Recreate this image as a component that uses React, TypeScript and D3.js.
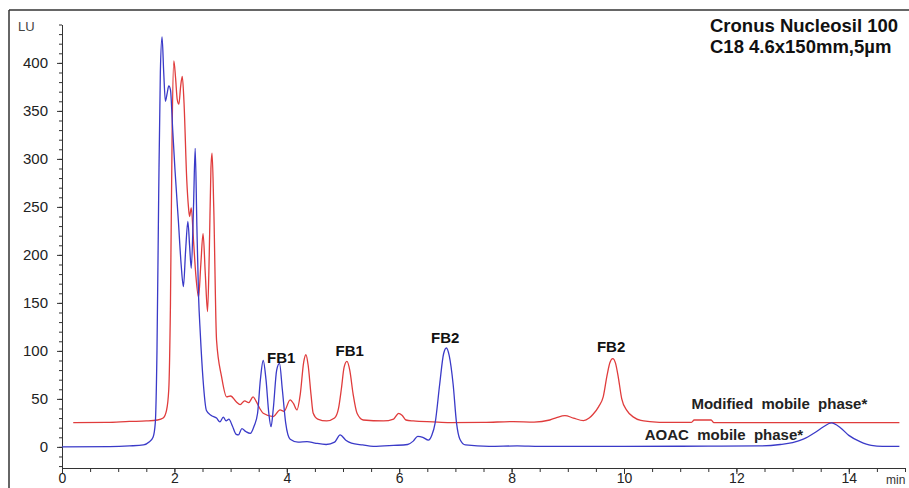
import { useEffect, useRef } from "react";
import * as d3 from "d3";

// retention time (min) / signal (LU)
const aoacPoints: [number, number][] = [
  [0, 0], [0.85, 0.3], [1.2, 1], [1.45, 2], [1.55, 5], [1.62, 10], [1.66, 25],
  [1.69, 100], [1.72, 260], [1.75, 390], [1.78, 427], [1.81, 390], [1.84, 360],
  [1.87, 368], [1.9, 376], [1.93, 372], [1.97, 330], [2.01, 289], [2.07, 236],
  [2.12, 190], [2.16, 167], [2.2, 205], [2.24, 235], [2.27, 210], [2.3, 186],
  [2.34, 250], [2.37, 311], [2.4, 230], [2.43, 157], [2.46, 119], [2.51, 70],
  [2.57, 38], [2.65, 33], [2.75, 30], [2.81, 26], [2.87, 31], [2.92, 27],
  [2.97, 29], [3.03, 22], [3.1, 13], [3.14, 12.5], [3.2, 19], [3.27, 16],
  [3.35, 14], [3.42, 22], [3.48, 35], [3.53, 70], [3.58, 90], [3.63, 70],
  [3.68, 35], [3.72, 21], [3.76, 40], [3.82, 80], [3.87, 87], [3.92, 60],
  [3.98, 25], [4.06, 8], [4.2, 5], [4.36, 5.5], [4.5, 4], [4.7, 2.5], [4.85, 5],
  [4.95, 12.5], [5.05, 7], [5.15, 4], [5.35, 2], [5.54, 0.5], [5.9, 1.5],
  [6.15, 2.5], [6.25, 6], [6.33, 11], [6.42, 10], [6.52, 7], [6.58, 12],
  [6.64, 25], [6.72, 65], [6.79, 97], [6.84, 103], [6.89, 95], [6.96, 65],
  [7.02, 25], [7.08, 8], [7.18, 2], [7.6, 0.5], [8.1, 1], [8.5, 0.5], [10, 0.5],
  [11.5, 0.8], [12.4, 1], [12.78, 2.5], [13.0, 4.5], [13.19, 8], [13.4, 15],
  [13.55, 21], [13.69, 25], [13.85, 20], [14.0, 12], [14.2, 5.5], [14.4, 1.5],
  [14.6, 0.5], [14.9, 0.5],
];

const modifiedPoints: [number, number][] = [
  [0.2, 25.3], [0.8, 25.5], [1.2, 26.5], [1.5, 27], [1.7, 28], [1.8, 30],
  [1.86, 38], [1.9, 60], [1.93, 150], [1.96, 330], [1.99, 402], [2.02, 385],
  [2.05, 362], [2.08, 357], [2.11, 375], [2.14, 386], [2.17, 360], [2.22, 278],
  [2.25, 250], [2.27, 240], [2.3, 249], [2.34, 215], [2.38, 180], [2.43, 156],
  [2.47, 190], [2.51, 222], [2.55, 180], [2.59, 141], [2.62, 200], [2.65, 290],
  [2.67, 306], [2.7, 250], [2.75, 111], [2.84, 73], [2.93, 52], [3.0, 53],
  [3.1, 47], [3.17, 44], [3.25, 48], [3.32, 46], [3.4, 52], [3.45, 48],
  [3.52, 40], [3.58, 35], [3.76, 31.6], [3.88, 38.5], [3.95, 37], [4.06, 49],
  [4.12, 45], [4.18, 38.5], [4.24, 55], [4.3, 88], [4.34, 96], [4.38, 85],
  [4.43, 55], [4.47, 35], [4.55, 29], [4.71, 27], [4.85, 30], [4.92, 40],
  [4.97, 60], [5.02, 83], [5.07, 89], [5.12, 80], [5.18, 55], [5.25, 35],
  [5.36, 28], [5.72, 27], [5.9, 29], [5.99, 35], [6.05, 33], [6.12, 28],
  [6.25, 27], [6.6, 26], [6.9, 25.3], [7.5, 25.5], [8.03, 26.4], [8.4, 25.8],
  [8.68, 28], [8.8, 30.5], [8.95, 32.6], [9.1, 30], [9.28, 27.4], [9.38, 30],
  [9.45, 34], [9.55, 42], [9.63, 52], [9.7, 75], [9.75, 88], [9.8, 92],
  [9.85, 87], [9.9, 72], [9.96, 50], [10.05, 38], [10.17, 31], [10.3, 27.5],
  [10.46, 26.4], [10.8, 25.5], [11.2, 25.5], [11.25, 28], [11.55, 28],
  [11.6, 25.3], [12.5, 25.3], [14.9, 25.3],
];

const peakLabels = ["FB1", "FB1", "FB2", "FB2"];
const peakTimes = [3.9, 5.12, 6.82, 9.77];
const peakValues = [87.5, 95, 108.5, 98.5];

const seriesNames = ["Modified  mobile  phase*", "AOAC  mobile  phase*"];
const seriesLabelTimes = [11.2, 10.37];
const seriesLabelValues = [39, 7];

const titleLines = ["Cronus Nucleosil 100", "C18 4.6x150mm,5µm"];

const xMajorTicks = [0, 2, 4, 6, 8, 10, 12, 14];
const yMajorTicks = [0, 50, 100, 150, 200, 250, 300, 350, 400];

const W = 909;
const H = 488;

export default function App() {
  const xAxisRef = useRef<SVGGElement>(null);
  const yAxisRef = useRef<SVGGElement>(null);

  const x = d3.scaleLinear().domain([0, 15]).range([62, 905]);
  const y = d3.scaleLinear().domain([-22, 440]).range([468, 24.5]);

  const line = d3
    .line<[number, number]>()
    .x((d) => x(d[0]))
    .y((d) => y(d[1]))
    .curve(d3.curveMonotoneX);

  useEffect(() => {
    const font = "Liberation Sans, Arial, sans-serif";
    const xMinor = d3.range(0, 15.01, 0.5);
    const yMinor = d3.range(-20, 441, 10);

    const gx = d3.select(xAxisRef.current);
    gx.selectAll("*").remove();
    gx.append("g")
      .call(d3.axisBottom(x).tickValues(xMinor).tickSize(4).tickSizeOuter(0).tickFormat(() => ""))
      .call((g) => g.select(".domain").remove());
    gx.append("g")
      .call(d3.axisBottom(x).tickValues(xMajorTicks).tickSize(6).tickSizeOuter(0).tickPadding(0))
      .call((g) => g.select(".domain").attr("stroke", "#333"))
      .call((g) =>
        g
          .selectAll("text")
          .attr("font-size", 14)
          .attr("font-family", font)
          .attr("fill", "#222")
          .attr("dy", "0.62em"),
      );
    gx.selectAll("line").attr("stroke", "#333");

    const gy = d3.select(yAxisRef.current);
    gy.selectAll("*").remove();
    gy.append("g")
      .call(d3.axisLeft(y).tickValues(yMinor).tickSize(3).tickSizeOuter(0).tickFormat(() => ""))
      .call((g) => g.select(".domain").remove());
    gy.append("g")
      .call(d3.axisLeft(y).tickValues(yMajorTicks).tickSize(5).tickSizeOuter(0).tickPadding(9))
      .call((g) => g.select(".domain").attr("stroke", "#333"))
      .call((g) =>
        g.selectAll("text").attr("font-size", 15).attr("font-family", font).attr("fill", "#222"),
      );
    gy.selectAll("line").attr("stroke", "#333");
  }, []);

  const bold = { fontFamily: "Liberation Sans, Arial, sans-serif", fontWeight: 700 } as const;

  return (
    <div style={{ position: "absolute", left: 0, top: 0 }}>
      <svg width={W} height={H} style={{ display: "block", background: "#fff" }}>
        <line x1={9} y1={10} x2={W} y2={10} stroke="#333" strokeWidth={1.5} />
        <line x1={9} y1={10} x2={9} y2={H} stroke="#333" strokeWidth={1.5} />

        <g ref={yAxisRef} transform={`translate(${x(0)},0)`} />
        <g ref={xAxisRef} transform={`translate(0,${y(-22)})`} />

        <text x={18} y={31} fontSize={13} fontFamily="Liberation Sans, Arial, sans-serif" fill="#444">
          LU
        </text>
        <text x={886} y={484} fontSize={12} fontFamily="Liberation Sans, Arial, sans-serif" fill="#333">
          min
        </text>

        <path d={line(modifiedPoints) ?? ""} fill="none" stroke="#e03c3c" strokeWidth={1.3} />
        <path d={line(aoacPoints) ?? ""} fill="none" stroke="#3a3ac8" strokeWidth={1.3} />

        {peakLabels.map((label, i) => (
          <text
            key={i}
            x={x(peakTimes[i])}
            y={y(peakValues[i])}
            textAnchor="middle"
            fontSize={15}
            fill="#111"
            style={bold}
          >
            {label}
          </text>
        ))}

        {seriesNames.map((name, i) => (
          <text
            key={name}
            x={x(seriesLabelTimes[i])}
            y={y(seriesLabelValues[i])}
            fontSize={15}
            fill="#222"
            style={{ ...bold, whiteSpace: "pre" }}
          >
            {name}
          </text>
        ))}

        {titleLines.map((t, i) => (
          <text
            key={t}
            x={710}
            y={32 + i * 21}
            fontSize={18.5}
            fill="#111"
            style={{ ...bold, whiteSpace: "pre" }}
          >
            {t}
          </text>
        ))}
      </svg>
    </div>
  );
}
